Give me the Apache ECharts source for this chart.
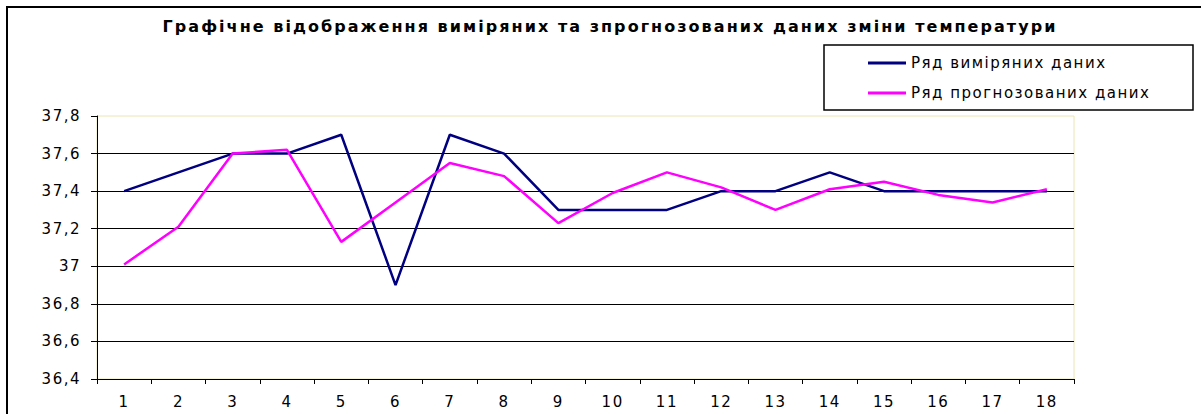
<!DOCTYPE html>
<html>
<head>
<meta charset="utf-8">
<script src="https://cdn.jsdelivr.net/npm/echarts@6/dist/echarts.min.js"></script>
<style>
  html, body { margin: 0; padding: 0; background: #ffffff; }
  #chart { width: 1201px; height: 414px; }
  /* wide, tracked lettering for all chart text */
  #chart svg text { letter-spacing: 1.5px; }
  #chart svg text[style*="bold"] { letter-spacing: 2.05px; }
</style>
</head>
<body>
<div id="chart"></div>
<script>
// Measurement indices along the x axis
const categories = ['1','2','3','4','5','6','7','8','9','10','11','12','13','14','15','16','17','18'];

// Measured temperature series
const measured = [37.4, 37.5, 37.6, 37.6, 37.7, 36.9, 37.7, 37.6, 37.3, 37.3, 37.3, 37.4, 37.4, 37.5, 37.4, 37.4, 37.4, 37.4];

// Forecast temperature series
const forecast = [37.01, 37.21, 37.6, 37.62, 37.13, 37.34, 37.55, 37.48, 37.23, 37.39, 37.5, 37.42, 37.3, 37.41, 37.45, 37.38, 37.34, 37.41];

// Y tick labels, bottom to top, with comma decimals
const yTickLabels = ['36,4', '36,6', '36,8', '37', '37,2', '37,4', '37,6', '37,8'];

const seriesNames = ['Ряд виміряних даних', 'Ряд прогнозованих даних'];
const titleText = 'Графічне відображення виміряних та зпрогнозованих даних зміни температури';

const FONT = '"DejaVu Sans", "Liberation Sans", Arial, sans-serif';

const chart = echarts.init(document.getElementById('chart'), null, { renderer: 'svg' });

chart.setOption({
  animation: false,
  backgroundColor: '#ffffff',
  textStyle: { fontFamily: FONT },
  graphic: [
    {
      // outer chart frame
      type: 'rect',
      silent: true,
      shape: { x: 7, y: 7, width: 1400, height: 600 },
      style: { fill: 'none', stroke: '#000', lineWidth: 2 }
    },
    {
      // chart title
      type: 'text',
      silent: true,
      x: 610,
      y: 26,
      style: {
        text: titleText,
        align: 'center',
        verticalAlign: 'middle',
        fontFamily: FONT,
        fontSize: 16,
        fontWeight: 'bold',
        fill: '#000'
      }
    },
    {
      // legend frame
      type: 'rect',
      silent: true,
      shape: { x: 824, y: 45, width: 369, height: 65 },
      style: { fill: '#fff', stroke: '#000', lineWidth: 1.5 }
    }
  ],
  legend: {
    orient: 'vertical',
    left: 868,
    top: 54,
    padding: 0,
    itemGap: 12,
    itemWidth: 38,
    itemHeight: 3,
    icon: 'rect',
    textStyle: { fontFamily: FONT, fontSize: 15, color: '#000', lineHeight: 18 },
    data: seriesNames
  },
  grid: {
    left: 97,
    top: 116,
    right: 127,
    bottom: 35,
    show: true,
    borderColor: '#ebe6b0',
    borderWidth: 1,
    backgroundColor: 'transparent'
  },
  xAxis: {
    type: 'category',
    data: categories,
    boundaryGap: true,
    axisLine: { show: true, lineStyle: { color: '#000', width: 1 } },
    axisTick: { show: true, length: 5, lineStyle: { color: '#000' } },
    axisLabel: { margin: 15, fontFamily: FONT, fontSize: 15, color: '#000' },
    splitLine: { show: false }
  },
  yAxis: {
    type: 'value',
    min: 36.4,
    max: 37.8,
    interval: 0.2,
    axisLine: { show: true, lineStyle: { color: '#000', width: 1 } },
    axisTick: { show: true, length: 6, lineStyle: { color: '#000' } },
    axisLabel: {
      margin: 16,
      fontFamily: FONT,
      fontSize: 15,
      color: '#000',
      formatter: (v, i) => yTickLabels[i]
    },
    splitLine: {
      show: true,
      showMinLine: false,
      showMaxLine: false,
      lineStyle: { color: '#000', width: 1 }
    }
  },
  series: [
    {
      name: seriesNames[0],
      type: 'line',
      data: measured,
      symbol: 'none',
      color: '#000080',
      lineStyle: { color: '#000080', width: 2.5 },
      z: 3
    },
    {
      name: seriesNames[1],
      type: 'line',
      data: forecast,
      symbol: 'none',
      color: '#ff00ff',
      lineStyle: { color: '#ff00ff', width: 2.5 },
      z: 4
    }
  ]
});
</script>
</body>
</html>
